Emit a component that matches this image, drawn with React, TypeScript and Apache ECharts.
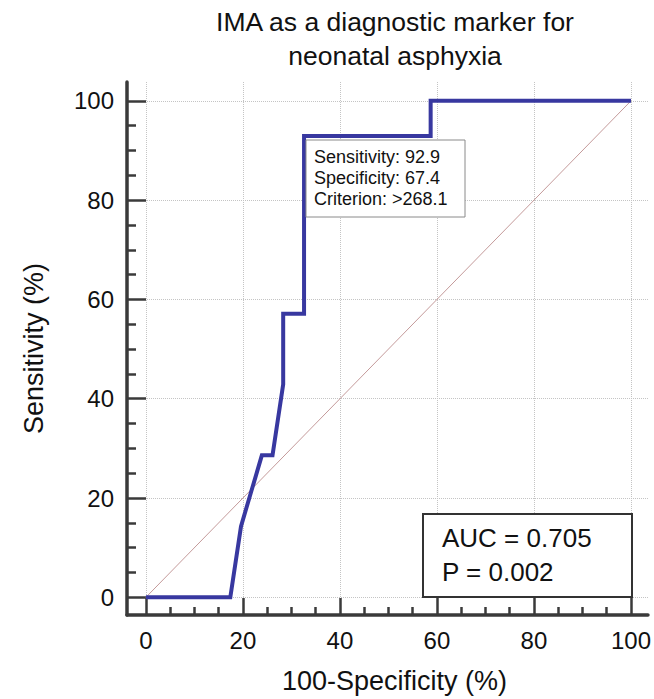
import React, { useEffect, useRef } from "react";
import * as echarts from "echarts";

const FONT = "'Liberation Sans', Arial, Helvetica, sans-serif";

// ROC curve points (100-Specificity, Sensitivity)
const fprValues = [0, 17.4, 19.6, 23.9, 26.1, 28.3, 28.3, 32.6, 32.6, 58.7, 58.7, 100];
const tprValues = [0, 0, 14.3, 28.6, 28.6, 42.9, 57.1, 57.1, 92.9, 92.9, 100, 100];
const diagonalX = [0, 100];
const diagonalY = [0, 100];

const majorTicks = [0, 20, 40, 60, 80, 100];
const minorTicks = [5, 10, 15, 25, 30, 35, 45, 50, 55, 65, 70, 75, 85, 90, 95];

const titleText = "IMA as a diagnostic marker for\nneonatal asphyxia";
const xName = "100-Specificity (%)";
const yName = "Sensitivity (%)";
const annotationLines = ["Sensitivity: 92.9", "Specificity: 67.4", "Criterion: >268.1"];
const statLines = ["AUC = 0.705", "P = 0.002"];

const X_MIN = -3.9, X_MAX = 103.5;
const Y_MIN = -3.56, Y_MAX = 103.8;

export default function App() {
  const ref = useRef<HTMLDivElement>(null);
  useEffect(() => {
    if (!ref.current) return;
    const chart = echarts.init(ref.current, undefined, { renderer: "svg" });
    const axisColor = "#3a3a3a";
    const majorAxis = (isX: boolean) => ({
      type: "value",
      min: isX ? X_MIN : Y_MIN,
      max: isX ? X_MAX : Y_MAX,
      position: isX ? "bottom" : "left",
      name: isX ? xName : yName,
      nameLocation: "middle",
      nameGap: isX ? 52 : 80,
      nameTextStyle: {
        fontSize: 27,
        color: "#111",
        fontFamily: FONT,
        padding: isX ? [0, 0, 0, 14] : [0, 0, 0, 0],
      },
      axisLine: { show: true, onZero: false, lineStyle: { color: axisColor, width: 3.5 } },
      axisTick: {
        show: true,
        inside: true,
        length: isX ? 17 : 19,
        customValues: majorTicks,
        lineStyle: { color: axisColor, width: 2.5 },
      },
      axisLabel: {
        show: true,
        customValues: majorTicks,
        fontSize: 24,
        color: "#111",
        fontFamily: FONT,
        margin: isX ? 13 : 13,
      },
      splitLine: { show: true, lineStyle: { color: "#c4c4c4", type: "dotted", width: 1 } },
    });
    const minorAxis = (isX: boolean) => ({
      type: "value",
      min: isX ? X_MIN : Y_MIN,
      max: isX ? X_MAX : Y_MAX,
      position: isX ? "bottom" : "left",
      axisLine: { show: false, onZero: false },
      axisTick: {
        show: true,
        inside: true,
        length: isX ? 8 : 9,
        customValues: minorTicks,
        lineStyle: { color: axisColor, width: 2.5 },
      },
      axisLabel: { show: false },
      splitLine: { show: false },
    });

    const rocData = fprValues.map((x, i) => [x, tprValues[i]]);
    const diagData = diagonalX.map((x, i) => [x, diagonalY[i]]);

    const annLeft = 306, annTop = 140, annW = 159, annH = 77;
    const aucLeft = 423, aucTop = 514, aucW = 209, aucH = 83;

    chart.setOption({
      animation: false,
      backgroundColor: "#ffffff",
      title: {
        text: titleText,
        left: 395,
        top: 5,
        padding: 0,
        textAlign: "center",
        textStyle: { fontSize: 26.5, fontWeight: "normal", color: "#111", fontFamily: FONT, lineHeight: 34 },
      },
      grid: { left: 127, top: 82, width: 521, height: 533, containLabel: false },
      xAxis: [majorAxis(true), minorAxis(true)],
      yAxis: [majorAxis(false), minorAxis(false)],
      series: [
        {
          type: "line",
          data: diagData,
          xAxisIndex: 0,
          yAxisIndex: 0,
          showSymbol: false,
          symbol: "none",
          lineStyle: { color: "#c49a9a", width: 1 },
          silent: true,
          z: 2,
        },
        {
          type: "line",
          data: rocData,
          xAxisIndex: 0,
          yAxisIndex: 0,
          showSymbol: false,
          symbol: "none",
          lineStyle: { color: "#3838a0", width: 4, join: "miter" },
          silent: true,
          z: 3,
        },
      ],
      graphic: [
        {
          type: "rect",
          shape: { x: annLeft, y: annTop, width: annW, height: annH },
          style: { fill: "#ffffff", stroke: "#8a8a8a", lineWidth: 1 },
          z: 10,
        },
        ...annotationLines.map((t, i) => ({
          type: "text",
          x: annLeft + 8,
          y: annTop + 17 + i * 21,
          style: { text: t, fontSize: 18, fill: "#111", fontFamily: FONT, verticalAlign: "middle", align: "left" },
          z: 11,
        })),
        {
          type: "rect",
          shape: { x: aucLeft, y: aucTop, width: aucW, height: aucH },
          style: { fill: "#ffffff", stroke: "#333333", lineWidth: 2 },
          z: 10,
        },
        ...statLines.map((t, i) => ({
          type: "text",
          x: aucLeft + 19,
          y: aucTop + 24 + i * 34,
          style: { text: t, fontSize: 26, fill: "#111", fontFamily: FONT, verticalAlign: "middle", align: "left" },
          z: 11,
        })),
      ],
    });
    return () => chart.dispose();
  }, []);
  return <div ref={ref} style={{ position: "absolute", left: 0, top: 0, width: 654, height: 699 }} />;
}
